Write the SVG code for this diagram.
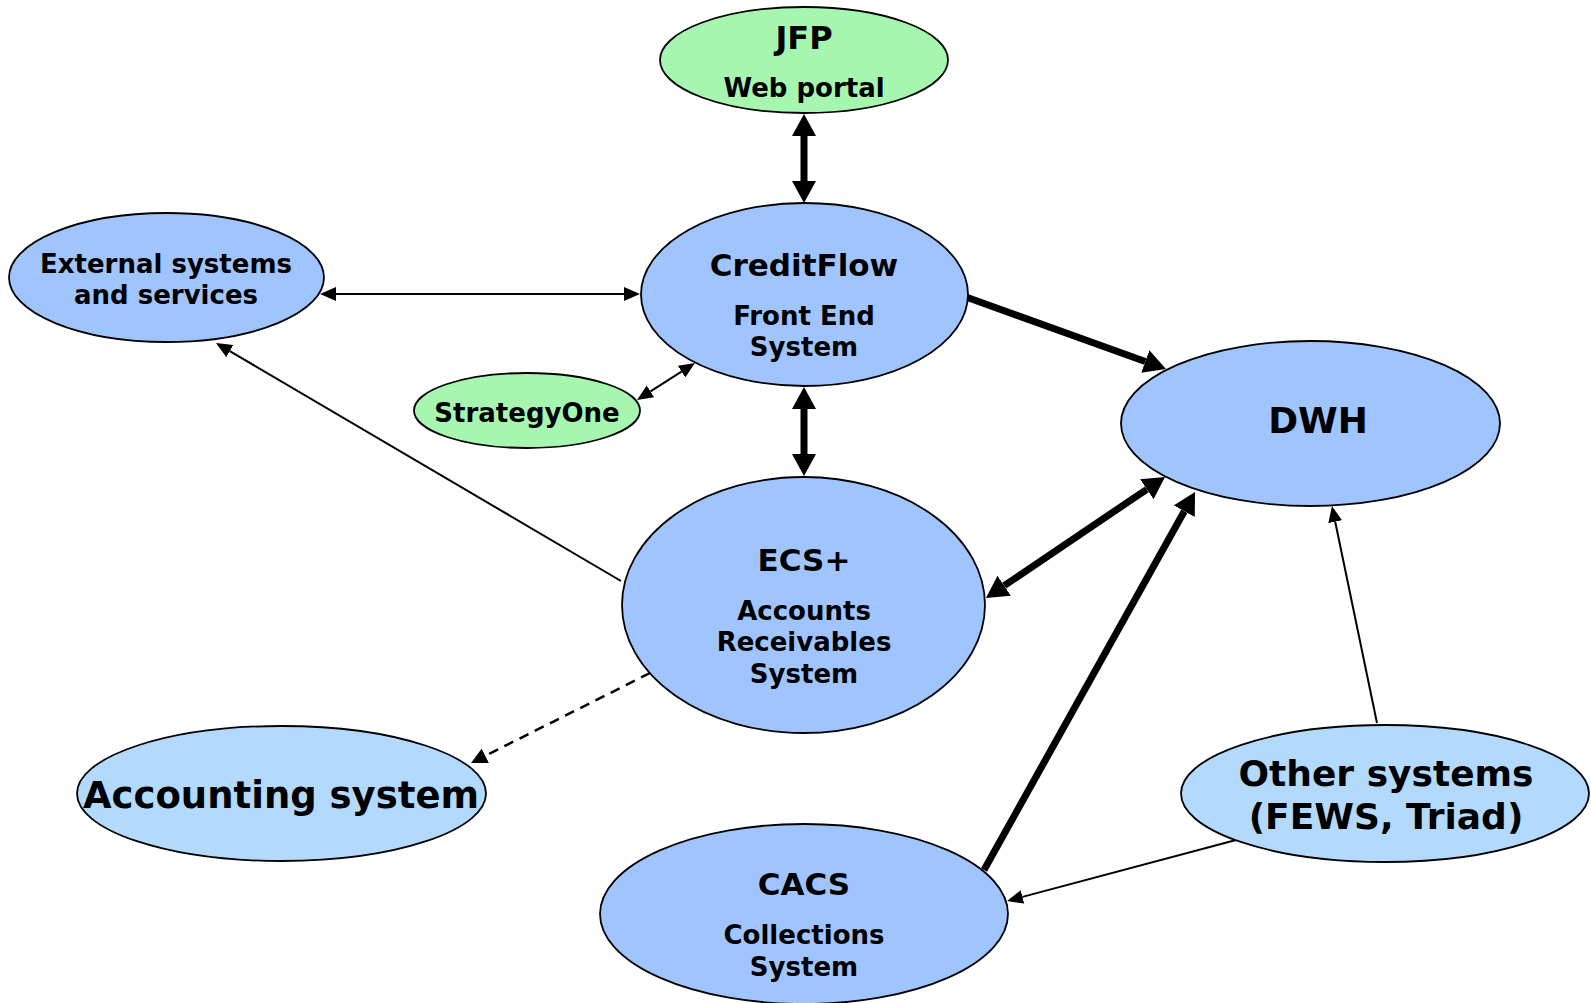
<svg xmlns="http://www.w3.org/2000/svg" width="1591" height="1003" viewBox="0 0 1591 1003">
<style>
.blue{fill:#a0c4fe;stroke:#000;stroke-width:1.8}
.light{fill:#b3d9fd;stroke:#000;stroke-width:1.8}
.green{fill:#a6f6b0;stroke:#000;stroke-width:1.8}
text{font-family:"DejaVu Sans","Verdana",sans-serif;font-weight:bold;fill:#000;text-anchor:middle}
.t31{font-size:31px}
.t32{font-size:32px}
.t26{font-size:26px}
.t36{font-size:36px}
.t37{font-size:37px}
.thick{stroke:#000;stroke-width:7;fill:none}
.thin{stroke:#000;stroke-width:2;fill:none}
.dash{stroke:#000;stroke-width:2.5;fill:none;stroke-dasharray:10 7}
</style>
<defs>
<marker id="big" markerUnits="userSpaceOnUse" viewBox="0 -12 22 24" markerWidth="22" markerHeight="24" refX="0" refY="0" orient="auto-start-reverse"><path d="M0,-12 L22,0 L0,12 z" fill="#000"/></marker>
<marker id="small" markerUnits="userSpaceOnUse" viewBox="0 -7 16 14" markerWidth="16" markerHeight="14" refX="0" refY="0" orient="auto-start-reverse"><path d="M0,-7 L16,0 L0,7 z" fill="#000"/></marker>
<marker id="dsh" markerUnits="userSpaceOnUse" viewBox="0 -8 16 16" markerWidth="16" markerHeight="16" refX="0" refY="0" orient="auto"><path d="M0,-8 L16,0 L0,8 z" fill="#000"/></marker>
</defs>
<rect width="1591" height="1003" fill="#fff"/>
<g id="connectors">
<line class="thick" x1="804" y1="136" x2="804" y2="181" marker-start="url(#big)" marker-end="url(#big)"/>
<line class="thin" x1="336" y1="294" x2="624" y2="294" marker-start="url(#small)" marker-end="url(#small)"/>
<line class="thin" x1="650.5" y1="391.4" x2="681.5" y2="371.6" marker-start="url(#small)" marker-end="url(#small)"/>
<line class="thick" x1="966" y1="297" x2="1145.3" y2="361.5" marker-end="url(#big)"/>
<line class="thick" x1="804" y1="409" x2="804" y2="454" marker-start="url(#big)" marker-end="url(#big)"/>
<line class="thick" x1="1004.2" y1="585.7" x2="1146.8" y2="489.3" marker-start="url(#big)" marker-end="url(#big)"/>
<line class="thick" x1="984" y1="870" x2="1184.3" y2="511.2" marker-end="url(#big)"/>
<line class="thin" x1="1377" y1="723" x2="1335.2" y2="521.7" marker-end="url(#small)"/>
<line class="thin" x1="1236" y1="840" x2="1022.5" y2="896.9" marker-end="url(#small)"/>
<line class="thin" x1="621" y1="581" x2="229.8" y2="351.1" marker-end="url(#small)"/>
<line class="dash" x1="650" y1="673" x2="485.3" y2="755.8" marker-end="url(#dsh)"/>
</g>
<g id="jfp">
<ellipse class="green" cx="804" cy="60" rx="144" ry="53"/>
<text class="t32" x="804" y="49">JFP</text>
<text class="t26" x="804" y="97">Web portal</text>
</g>
<g id="creditflow">
<ellipse class="blue" cx="804.5" cy="294.5" rx="163.5" ry="91.5"/>
<text class="t31" x="804" y="276">CreditFlow</text>
<text class="t26" x="804" y="325">Front End</text>
<text class="t26" x="804" y="356">System</text>
</g>
<g id="external">
<ellipse class="blue" cx="166.5" cy="277.5" rx="157.5" ry="64.5"/>
<text class="t26" x="166" y="273">External systems</text>
<text class="t26" x="166" y="304">and services</text>
</g>
<g id="strategyone">
<ellipse class="green" cx="527" cy="410.5" rx="113" ry="37.5"/>
<text class="t26" x="527" y="422">StrategyOne</text>
</g>
<g id="dwh">
<ellipse class="blue" cx="1310.5" cy="423.5" rx="189.5" ry="82.5"/>
<text class="t36" x="1318" y="433">DWH</text>
</g>
<g id="ecs">
<ellipse class="blue" cx="803.5" cy="605" rx="181.5" ry="128"/>
<text class="t31" x="804" y="571">ECS+</text>
<text class="t26" x="804" y="620">Accounts</text>
<text class="t26" x="804" y="651">Receivables</text>
<text class="t26" x="804" y="683">System</text>
</g>
<g id="accounting">
<ellipse class="light" cx="281.5" cy="793.5" rx="204.5" ry="67.5"/>
<text class="t37" x="281" y="808">Accounting system</text>
</g>
<g id="other">
<ellipse class="light" cx="1385" cy="793.5" rx="204" ry="68.5"/>
<text class="t36" x="1386" y="786">Other systems</text>
<text class="t36" x="1386" y="829">(FEWS, Triad)</text>
</g>
<g id="cacs">
<ellipse class="blue" cx="804" cy="914" rx="204" ry="90"/>
<text class="t31" x="804" y="895">CACS</text>
<text class="t26" x="804" y="944">Collections</text>
<text class="t26" x="804" y="976">System</text>
</g>
</svg>
